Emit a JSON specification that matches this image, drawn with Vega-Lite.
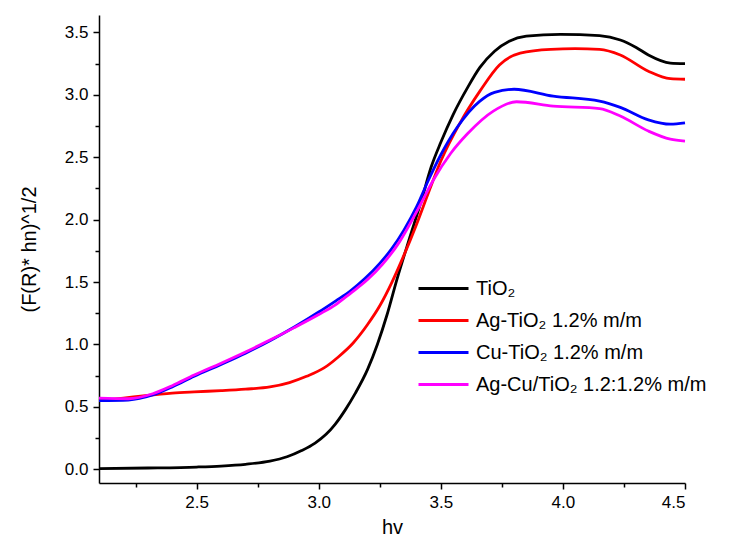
{
  "$schema": "https://vega.github.io/schema/vega-lite/v6.json",
  "width": 586,
  "height": 468,
  "autosize": "none",
  "padding": {"left": 99, "top": 15, "right": 47, "bottom": 67},
  "background": "white",
  "config": {
    "view": {"stroke": null},
    "font": "Liberation Sans",
    "axis": {"grid": false, "domainColor": "black", "domainWidth": 1.5, "tickColor": "black", "tickWidth": 1.5, "labelColor": "black", "titleColor": "black", "labelFont": "Liberation Sans", "titleFont": "Liberation Sans", "labelFontSize": 17, "titleFontSize": 20, "titleFontWeight": "normal"}
  },
  "data": {"values": [
    {"hv": 2.10, "v": 0.005, "s": "TiO₂"},
    {"hv": 2.30, "v": 0.01, "s": "TiO₂"},
    {"hv": 2.50, "v": 0.018, "s": "TiO₂"},
    {"hv": 2.60, "v": 0.026, "s": "TiO₂"},
    {"hv": 2.70, "v": 0.04, "s": "TiO₂"},
    {"hv": 2.80, "v": 0.065, "s": "TiO₂"},
    {"hv": 2.87, "v": 0.10, "s": "TiO₂"},
    {"hv": 2.93, "v": 0.15, "s": "TiO₂"},
    {"hv": 2.985, "v": 0.21, "s": "TiO₂"},
    {"hv": 3.03, "v": 0.28, "s": "TiO₂"},
    {"hv": 3.067, "v": 0.36, "s": "TiO₂"},
    {"hv": 3.11, "v": 0.48, "s": "TiO₂"},
    {"hv": 3.15, "v": 0.61, "s": "TiO₂"},
    {"hv": 3.20, "v": 0.80, "s": "TiO₂"},
    {"hv": 3.24, "v": 1.0, "s": "TiO₂"},
    {"hv": 3.28, "v": 1.24, "s": "TiO₂"},
    {"hv": 3.32, "v": 1.52, "s": "TiO₂"},
    {"hv": 3.37, "v": 1.84, "s": "TiO₂"},
    {"hv": 3.42, "v": 2.15, "s": "TiO₂"},
    {"hv": 3.46, "v": 2.42, "s": "TiO₂"},
    {"hv": 3.50, "v": 2.62, "s": "TiO₂"},
    {"hv": 3.55, "v": 2.84, "s": "TiO₂"},
    {"hv": 3.61, "v": 3.06, "s": "TiO₂"},
    {"hv": 3.66, "v": 3.22, "s": "TiO₂"},
    {"hv": 3.72, "v": 3.35, "s": "TiO₂"},
    {"hv": 3.78, "v": 3.43, "s": "TiO₂"},
    {"hv": 3.85, "v": 3.47, "s": "TiO₂"},
    {"hv": 3.99, "v": 3.485, "s": "TiO₂"},
    {"hv": 4.15, "v": 3.475, "s": "TiO₂"},
    {"hv": 4.235, "v": 3.44, "s": "TiO₂"},
    {"hv": 4.30, "v": 3.38, "s": "TiO₂"},
    {"hv": 4.35, "v": 3.32, "s": "TiO₂"},
    {"hv": 4.44, "v": 3.255, "s": "TiO₂"},
    {"hv": 4.50, "v": 3.25, "s": "TiO₂"},

    {"hv": 2.10, "v": 0.55, "s": "Ag-TiO₂ 1.2% m/m"},
    {"hv": 2.20, "v": 0.57, "s": "Ag-TiO₂ 1.2% m/m"},
    {"hv": 2.29, "v": 0.59, "s": "Ag-TiO₂ 1.2% m/m"},
    {"hv": 2.40, "v": 0.61, "s": "Ag-TiO₂ 1.2% m/m"},
    {"hv": 2.49, "v": 0.62, "s": "Ag-TiO₂ 1.2% m/m"},
    {"hv": 2.60, "v": 0.63, "s": "Ag-TiO₂ 1.2% m/m"},
    {"hv": 2.70, "v": 0.642, "s": "Ag-TiO₂ 1.2% m/m"},
    {"hv": 2.80, "v": 0.66, "s": "Ag-TiO₂ 1.2% m/m"},
    {"hv": 2.88, "v": 0.695, "s": "Ag-TiO₂ 1.2% m/m"},
    {"hv": 2.95, "v": 0.745, "s": "Ag-TiO₂ 1.2% m/m"},
    {"hv": 3.02, "v": 0.81, "s": "Ag-TiO₂ 1.2% m/m"},
    {"hv": 3.08, "v": 0.90, "s": "Ag-TiO₂ 1.2% m/m"},
    {"hv": 3.14, "v": 1.01, "s": "Ag-TiO₂ 1.2% m/m"},
    {"hv": 3.20, "v": 1.16, "s": "Ag-TiO₂ 1.2% m/m"},
    {"hv": 3.25, "v": 1.31, "s": "Ag-TiO₂ 1.2% m/m"},
    {"hv": 3.30, "v": 1.50, "s": "Ag-TiO₂ 1.2% m/m"},
    {"hv": 3.35, "v": 1.72, "s": "Ag-TiO₂ 1.2% m/m"},
    {"hv": 3.40, "v": 1.96, "s": "Ag-TiO₂ 1.2% m/m"},
    {"hv": 3.45, "v": 2.22, "s": "Ag-TiO₂ 1.2% m/m"},
    {"hv": 3.50, "v": 2.47, "s": "Ag-TiO₂ 1.2% m/m"},
    {"hv": 3.58, "v": 2.78, "s": "Ag-TiO₂ 1.2% m/m"},
    {"hv": 3.66, "v": 3.03, "s": "Ag-TiO₂ 1.2% m/m"},
    {"hv": 3.74, "v": 3.24, "s": "Ag-TiO₂ 1.2% m/m"},
    {"hv": 3.825, "v": 3.335, "s": "Ag-TiO₂ 1.2% m/m"},
    {"hv": 3.95, "v": 3.365, "s": "Ag-TiO₂ 1.2% m/m"},
    {"hv": 4.05, "v": 3.37, "s": "Ag-TiO₂ 1.2% m/m"},
    {"hv": 4.15, "v": 3.365, "s": "Ag-TiO₂ 1.2% m/m"},
    {"hv": 4.235, "v": 3.32, "s": "Ag-TiO₂ 1.2% m/m"},
    {"hv": 4.35, "v": 3.19, "s": "Ag-TiO₂ 1.2% m/m"},
    {"hv": 4.44, "v": 3.13, "s": "Ag-TiO₂ 1.2% m/m"},
    {"hv": 4.50, "v": 3.125, "s": "Ag-TiO₂ 1.2% m/m"},

    {"hv": 2.10, "v": 0.55, "s": "Cu-TiO₂ 1.2% m/m"},
    {"hv": 2.22, "v": 0.555, "s": "Cu-TiO₂ 1.2% m/m"},
    {"hv": 2.32, "v": 0.595, "s": "Cu-TiO₂ 1.2% m/m"},
    {"hv": 2.40, "v": 0.66, "s": "Cu-TiO₂ 1.2% m/m"},
    {"hv": 2.49, "v": 0.745, "s": "Cu-TiO₂ 1.2% m/m"},
    {"hv": 2.60, "v": 0.84, "s": "Cu-TiO₂ 1.2% m/m"},
    {"hv": 2.70, "v": 0.93, "s": "Cu-TiO₂ 1.2% m/m"},
    {"hv": 2.80, "v": 1.03, "s": "Cu-TiO₂ 1.2% m/m"},
    {"hv": 2.90, "v": 1.14, "s": "Cu-TiO₂ 1.2% m/m"},
    {"hv": 3.00, "v": 1.26, "s": "Cu-TiO₂ 1.2% m/m"},
    {"hv": 3.07, "v": 1.35, "s": "Cu-TiO₂ 1.2% m/m"},
    {"hv": 3.13, "v": 1.43, "s": "Cu-TiO₂ 1.2% m/m"},
    {"hv": 3.19, "v": 1.53, "s": "Cu-TiO₂ 1.2% m/m"},
    {"hv": 3.25, "v": 1.65, "s": "Cu-TiO₂ 1.2% m/m"},
    {"hv": 3.30, "v": 1.77, "s": "Cu-TiO₂ 1.2% m/m"},
    {"hv": 3.35, "v": 1.92, "s": "Cu-TiO₂ 1.2% m/m"},
    {"hv": 3.40, "v": 2.10, "s": "Cu-TiO₂ 1.2% m/m"},
    {"hv": 3.45, "v": 2.32, "s": "Cu-TiO₂ 1.2% m/m"},
    {"hv": 3.50, "v": 2.52, "s": "Cu-TiO₂ 1.2% m/m"},
    {"hv": 3.567, "v": 2.74, "s": "Cu-TiO₂ 1.2% m/m"},
    {"hv": 3.66, "v": 2.95, "s": "Cu-TiO₂ 1.2% m/m"},
    {"hv": 3.72, "v": 3.02, "s": "Cu-TiO₂ 1.2% m/m"},
    {"hv": 3.80, "v": 3.045, "s": "Cu-TiO₂ 1.2% m/m"},
    {"hv": 3.96, "v": 2.99, "s": "Cu-TiO₂ 1.2% m/m"},
    {"hv": 4.15, "v": 2.95, "s": "Cu-TiO₂ 1.2% m/m"},
    {"hv": 4.235, "v": 2.90, "s": "Cu-TiO₂ 1.2% m/m"},
    {"hv": 4.35, "v": 2.80, "s": "Cu-TiO₂ 1.2% m/m"},
    {"hv": 4.44, "v": 2.765, "s": "Cu-TiO₂ 1.2% m/m"},
    {"hv": 4.50, "v": 2.775, "s": "Cu-TiO₂ 1.2% m/m"},

    {"hv": 2.10, "v": 0.57, "s": "Ag-Cu/TiO₂ 1.2:1.2% m/m"},
    {"hv": 2.22, "v": 0.565, "s": "Ag-Cu/TiO₂ 1.2:1.2% m/m"},
    {"hv": 2.32, "v": 0.605, "s": "Ag-Cu/TiO₂ 1.2:1.2% m/m"},
    {"hv": 2.40, "v": 0.67, "s": "Ag-Cu/TiO₂ 1.2:1.2% m/m"},
    {"hv": 2.49, "v": 0.755, "s": "Ag-Cu/TiO₂ 1.2:1.2% m/m"},
    {"hv": 2.60, "v": 0.85, "s": "Ag-Cu/TiO₂ 1.2:1.2% m/m"},
    {"hv": 2.70, "v": 0.94, "s": "Ag-Cu/TiO₂ 1.2:1.2% m/m"},
    {"hv": 2.80, "v": 1.035, "s": "Ag-Cu/TiO₂ 1.2:1.2% m/m"},
    {"hv": 2.90, "v": 1.135, "s": "Ag-Cu/TiO₂ 1.2:1.2% m/m"},
    {"hv": 3.00, "v": 1.24, "s": "Ag-Cu/TiO₂ 1.2:1.2% m/m"},
    {"hv": 3.07, "v": 1.32, "s": "Ag-Cu/TiO₂ 1.2:1.2% m/m"},
    {"hv": 3.13, "v": 1.41, "s": "Ag-Cu/TiO₂ 1.2:1.2% m/m"},
    {"hv": 3.20, "v": 1.52, "s": "Ag-Cu/TiO₂ 1.2:1.2% m/m"},
    {"hv": 3.26, "v": 1.64, "s": "Ag-Cu/TiO₂ 1.2:1.2% m/m"},
    {"hv": 3.33, "v": 1.82, "s": "Ag-Cu/TiO₂ 1.2:1.2% m/m"},
    {"hv": 3.40, "v": 2.06, "s": "Ag-Cu/TiO₂ 1.2:1.2% m/m"},
    {"hv": 3.47, "v": 2.32, "s": "Ag-Cu/TiO₂ 1.2:1.2% m/m"},
    {"hv": 3.54, "v": 2.53, "s": "Ag-Cu/TiO₂ 1.2:1.2% m/m"},
    {"hv": 3.61, "v": 2.69, "s": "Ag-Cu/TiO₂ 1.2:1.2% m/m"},
    {"hv": 3.715, "v": 2.87, "s": "Ag-Cu/TiO₂ 1.2:1.2% m/m"},
    {"hv": 3.81, "v": 2.945, "s": "Ag-Cu/TiO₂ 1.2:1.2% m/m"},
    {"hv": 3.96, "v": 2.91, "s": "Ag-Cu/TiO₂ 1.2:1.2% m/m"},
    {"hv": 4.15, "v": 2.89, "s": "Ag-Cu/TiO₂ 1.2:1.2% m/m"},
    {"hv": 4.235, "v": 2.83, "s": "Ag-Cu/TiO₂ 1.2:1.2% m/m"},
    {"hv": 4.35, "v": 2.71, "s": "Ag-Cu/TiO₂ 1.2:1.2% m/m"},
    {"hv": 4.44, "v": 2.645, "s": "Ag-Cu/TiO₂ 1.2:1.2% m/m"},
    {"hv": 4.50, "v": 2.63, "s": "Ag-Cu/TiO₂ 1.2:1.2% m/m"}
  ]},
  "mark": {"type": "line", "interpolate": "monotone", "strokeWidth": 2.8},
  "encoding": {
    "x": {
      "field": "hv", "type": "quantitative",
      "scale": {"domain": [2.1, 4.5], "nice": false, "zero": false},
      "axis": {
        "title": "hv", "titlePadding": 7,
        "values": [2.25, 2.5, 2.75, 3.0, 3.25, 3.5, 3.75, 4.0, 4.25, 4.5],
        "labelExpr": "abs(datum.value*2 - round(datum.value*2)) < 0.001 ? format(datum.value, '.1f') : ''",
        "tickSize": {"condition": {"test": "abs(datum.value*2 - round(datum.value*2)) < 0.001", "value": 6}, "value": 4},
        "labelPadding": 5
      }
    },
    "y": {
      "field": "v", "type": "quantitative",
      "scale": {"domain": [-0.11, 3.64], "nice": false, "zero": false},
      "axis": {
        "title": "(F(R)* hn)^1/2", "titlePadding": 25,
        "values": [0, 0.25, 0.5, 0.75, 1.0, 1.25, 1.5, 1.75, 2.0, 2.25, 2.5, 2.75, 3.0, 3.25, 3.5],
        "labelExpr": "abs(datum.value*2 - round(datum.value*2)) < 0.001 ? format(datum.value, '.1f') : ''",
        "tickSize": {"condition": {"test": "abs(datum.value*2 - round(datum.value*2)) < 0.001", "value": 6}, "value": 4},
        "labelPadding": 5
      }
    },
    "color": {
      "field": "s", "type": "nominal",
      "scale": {
        "domain": ["TiO₂", "Ag-TiO₂ 1.2% m/m", "Cu-TiO₂ 1.2% m/m", "Ag-Cu/TiO₂ 1.2:1.2% m/m"],
        "range": ["#000000", "#ff0000", "#0000ff", "#ff00ff"]
      },
      "legend": {
        "title": null, "orient": "none", "legendX": 333, "legendY": 262,
        "symbolType": "M-2.5,0H2.5", "symbolSize": 400, "symbolStrokeWidth": 3,
        "labelFontSize": 20, "labelFont": "Liberation Sans", "labelColor": "black",
        "labelLimit": 400, "rowPadding": 10, "labelOffset": 21
      }
    }
  }
}
